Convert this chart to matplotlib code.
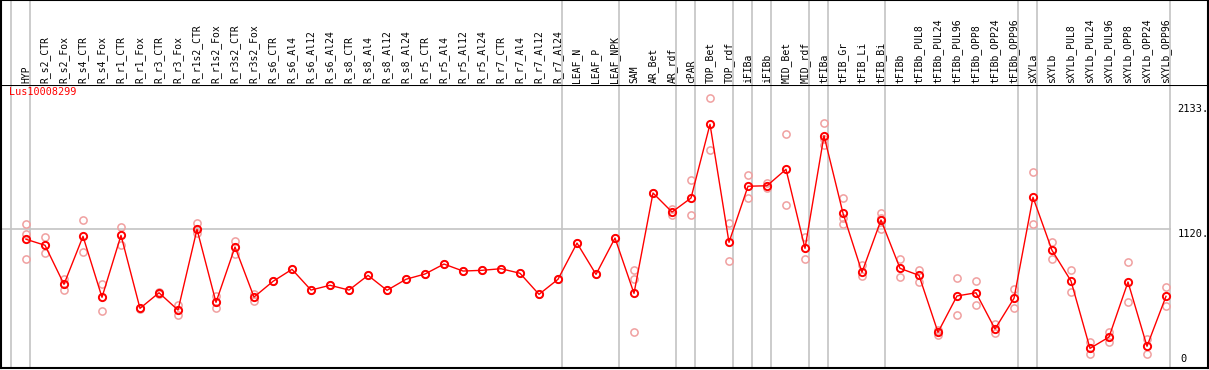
import matplotlib
matplotlib.use("Agg")
import matplotlib.pyplot as plt

# sample names along the top
samples = ["HYP", "R_s2_CTR", "R_s2_Fox", "R_s4_CTR", "R_s4_Fox", "R_r1_CTR", "R_r1_Fox",
           "R_r3_CTR", "R_r3_Fox", "R_r1s2_CTR", "R_r1s2_Fox", "R_r3s2_CTR", "R_r3s2_Fox",
           "R_s6_CTR", "R_s6_Al4", "R_s6_Al12", "R_s6_Al24", "R_s8_CTR", "R_s8_Al4",
           "R_s8_Al12", "R_s8_Al24", "R_r5_CTR", "R_r5_Al4", "R_r5_Al12", "R_r5_Al24",
           "R_r7_CTR", "R_r7_Al4", "R_r7_Al12", "R_r7_Al24", "LEAF_N", "LEAF_P", "LEAF_NPK",
           "SAM", "AR_Bet", "AR_rdf", "cPAR", "TOP_Bet", "TOP_rdf", "iFIBa", "iFIBb",
           "MID_Bet", "MID_rdf", "tFIBa", "tFIB_Gr", "tFIB_Li", "tFIB_Bi", "tFIBb",
           "tFIBb_PUL8", "tFIBb_PUL24", "tFIBb_PUL96", "tFIBb_OPP8", "tFIBb_OPP24",
           "tFIBb_OPP96", "sXYLa", "sXYLb", "sXYLb_PUL8", "sXYLb_PUL24", "sXYLb_PUL96",
           "sXYLb_OPP8", "sXYLb_OPP24", "sXYLb_OPP96"]

# mean expression per sample
means = [1033, 984, 666, 1057, 560, 1065, 470, 597, 456, 1114, 519, 970, 562,
         690, 788, 619, 658, 619, 739, 617, 707, 750, 831, 774, 780, 793, 756, 584, 707,
         1002, 747, 1043, 592, 1410, 1255, 1369, 1970, 1008, 1465, 1469, 1603, 959,
         1877, 1245, 764, 1190, 796, 739, 275, 571, 597, 302, 552,
         1375, 943, 693, 144, 236, 685, 161, 568]

# individual replicates
replicates = [[1155, 1076, 870], [1049, 923], [711, 619], [1187, 927], [666, 446],
              [1130, 986], [475, 465], [606, 589], [495, 416], [1165, 1082], [571, 475],
              [1019, 915], [584, 530], [690], [788], [619], [658], [619], [739], [617],
              [707], [750], [831], [774], [780], [793], [756], [584], [707],
              [1002], [747], [1043], [780, 707, 275], [1410], [1231, 1280], [1516, 1228],
              [2182, 1758], [1163, 853], [1554, 1367], [1494, 1448], [1891, 1310],
              [1054, 870], [1978, 1801, 1850], [1367, 1157, 1210], [823, 736], [1245, 1114, 1210],
              [870, 723], [780, 687], [293, 253], [715, 413], [690, 495], [342, 267],
              [625, 470], [1579, 1155], [1008, 870], [780, 603], [193, 100], [280, 196],
              [845, 519], [220, 95], [641, 491]]

# group separators come after these sample indices
group_ends = [-1, 0, 28, 31, 34, 35, 37, 38, 39, 41, 42, 45, 52, 53, 60]

gene = "Lus10008299"

W, H = 1209, 370
fig = plt.figure(figsize=(W / 100, H / 100), dpi=100)
mono = "DejaVu Sans Mono"

xlo = (1 - 26) / 19
xhi = (1208 - 26) / 19

ax = fig.add_axes([1 / W, (H - 368) / H, 1207 / W, 283 / H])
ax.set_xlim(xlo, xhi)
ax.set_ylim(-16, 2290)
ax.set_xticks([])
ax.set_yticks([])
for s in ax.spines.values():
    s.set_linewidth(1.5)
    s.set_color("black")

axt = fig.add_axes([1 / W, (H - 85) / H, 1207 / W, 85 / H])
axt.set_xlim(xlo, xhi)
axt.set_ylim(0, 1)
axt.set_xticks([])
axt.set_yticks([])
axt.spines["bottom"].set_visible(False)
for s in axt.spines.values():
    s.set_linewidth(1.5)

grid_c = "#c4c4c4"
for g in group_ends:
    ax.axvline(g + 0.22, color=grid_c, lw=1.2, zorder=1)
    axt.axvline(g + 0.22, color=grid_c, lw=1.2, zorder=1)

ax.plot([xlo, group_ends[-1] + 0.22], [1120, 1120], color=grid_c, lw=1.2, zorder=1)

x = list(range(len(samples)))
for i, reps in enumerate(replicates):
    ax.plot([i] * len(reps), reps, linestyle="none", marker="o", ms=5.2,
            mfc="none", mec="#f0a0a0", mew=1.1, zorder=2)
ax.plot(x, means, color="#ff0000", lw=1, marker="o", ms=5.2, mfc="none",
        mec="#ff0000", mew=1.4, zorder=3)

for i, name in enumerate(samples):
    axt.text(i, 0.025, name, rotation=90, ha="center", va="bottom",
             fontsize=7, family=mono, color="black")

ax.text(0.0065, 0.975, gene, transform=ax.transAxes, ha="left", va="center",
        fontsize=7.3, family=mono, color="#ff0000")

lab_x = 60.6
ax.text(lab_x, 2133, "2133.", ha="left", va="top", fontsize=7.5, family=mono)
ax.text(lab_x, 1120, "1120.", ha="left", va="top", fontsize=7.5, family=mono)
ax.text(lab_x + 0.15, 20, "0", ha="left", va="bottom", fontsize=7.5, family=mono)

fig.savefig("out.png", dpi=100)
